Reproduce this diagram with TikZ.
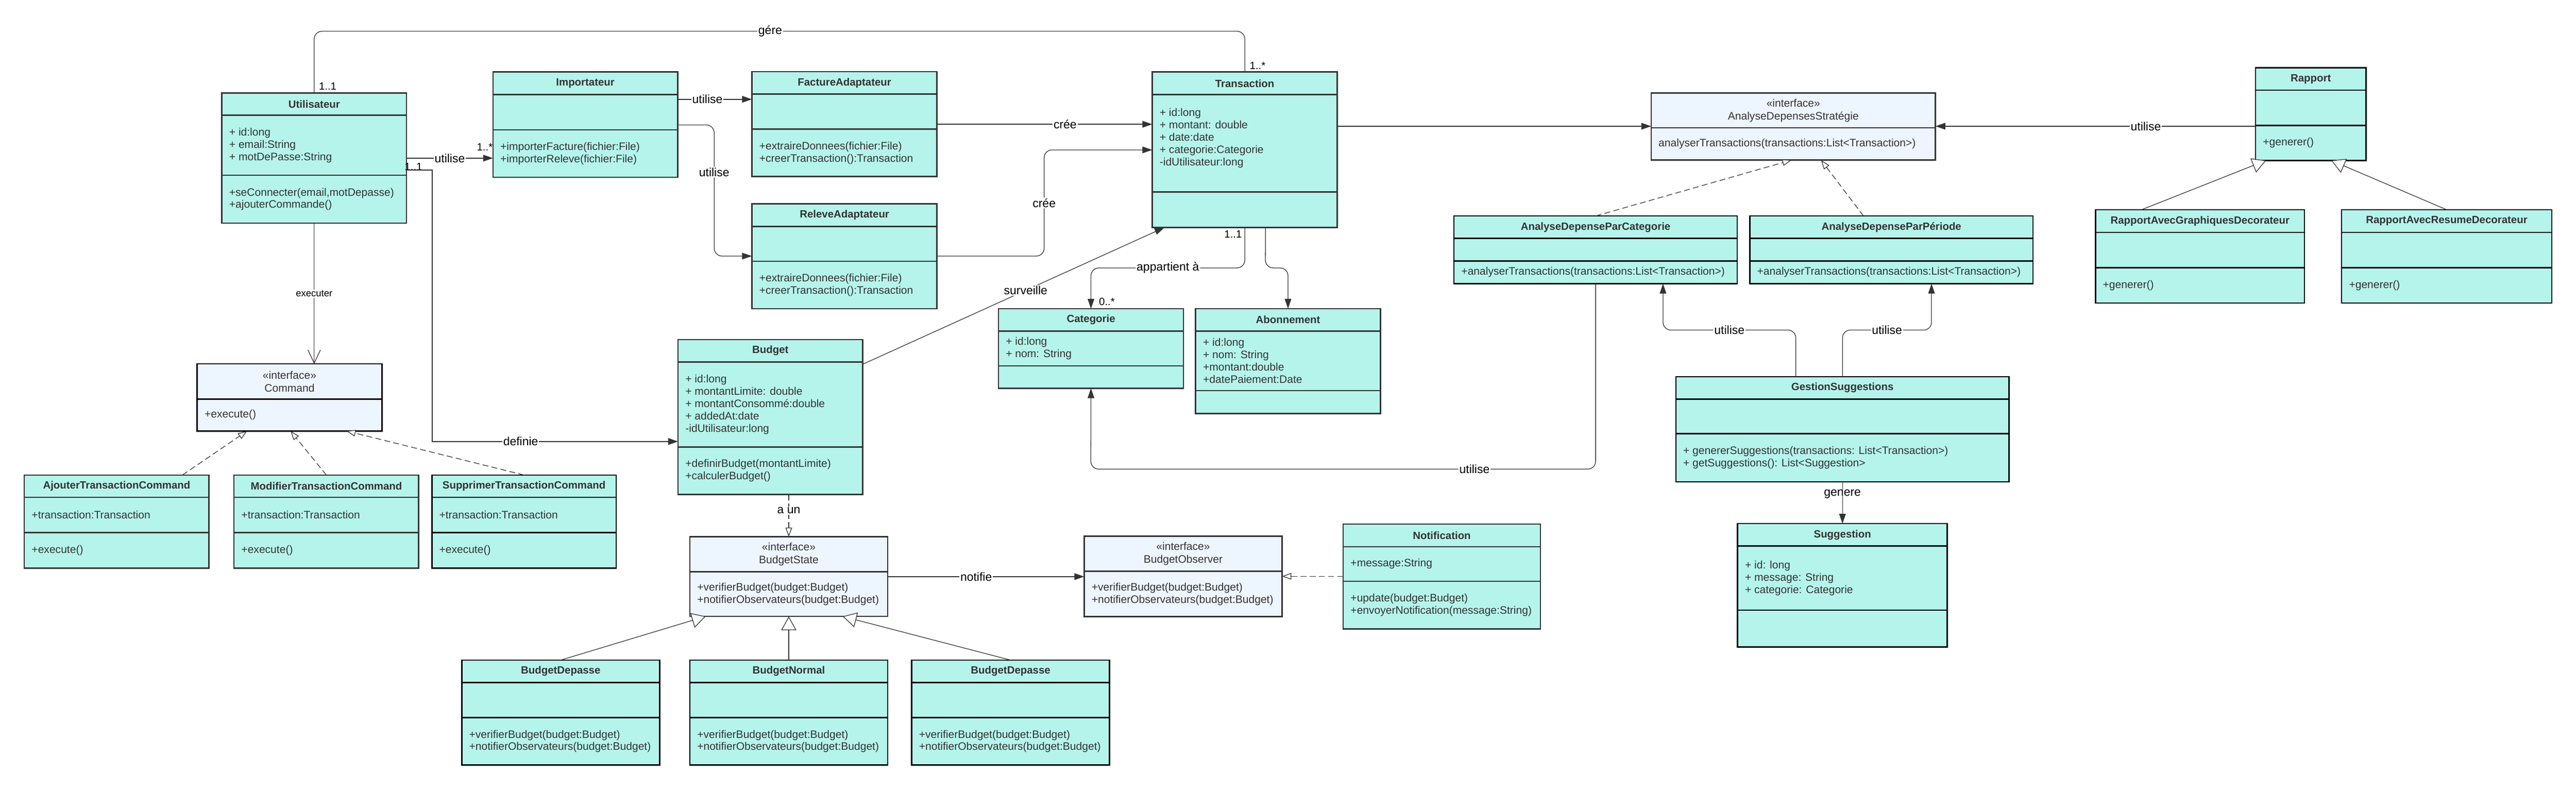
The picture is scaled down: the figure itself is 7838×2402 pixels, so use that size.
\documentclass[tikz,border=0pt]{standalone}
\usepackage{fontspec}
\setmainfont{Liberation Sans}
\usetikzlibrary{arrows.meta,calc,fit}
\definecolor{mint}{HTML}{B5F4EB}
\definecolor{ifc}{HTML}{EDF5FF}
\definecolor{ink}{HTML}{333333}

% class box: [border] name x1 y1 x2 y2 h1 h2
\newcommand{\uclass}[8][ink]{%
  \node[classbox, draw=#1, fit={(#3,#4) (#5,#6)}] (#2) {};
  \coordinate (#2-a) at (#3,#7);
  \coordinate (#2-b) at (#3,#8);
  \draw[sepline, draw=#1] (#2-a) -- (#2.east |- #2-a);
  \draw[sepline, draw=#1] (#2-b) -- (#2.east |- #2-b);
}
% interface box: [border] name x1 y1 x2 y2 h1
\newcommand{\uiface}[7][ink]{%
  \node[classbox, fill=ifc, draw=#1, fit={(#3,#4) (#5,#6)}] (#2) {};
  \coordinate (#2-a) at (#3,#7);
  \draw[sepline, draw=#1] (#2-a) -- (#2.east |- #2-a);
}
\newcommand{\utitle}[2]{\node[ttl] (#1-title) at ($(#1.north)!0.5!(#1.north |- #1-a)$) {#2};}
\newcommand{\uhead}[2]{\node[hd] (#1-title) at ($(#1.north)!0.5!(#1.north |- #1-a)$) {«interface»\\#2};}
\newcommand{\uattrs}[2]{\node[mem] (#1-attrs) at ($(#1-a)!0.5!(#1-b)+(22,0)$) {#2};}
\newcommand{\umeths}[2]{\node[mem] (#1-meths) at ($(#1-b)!0.5!(#1.south west)+(22,0)$) {#2};}
\newcommand{\uimeths}[2]{\node[mem] (#1-meths) at ($(#1-a)!0.5!(#1.south west)+(22,0)$) {#2};}

\begin{document}
\begin{tikzpicture}[x=0.5pt,y=-0.5pt,
  classbox/.style={line width=2pt, fill=mint, inner sep=0pt, outer sep=0pt},
  sepline/.style={line width=2pt},
  ttl/.style={font=\fontsize{16}{19}\selectfont\bfseries, text=ink},
  hd/.style={font=\fontsize{16.5}{19.5}\selectfont, text=ink, align=center},
  mem/.style={font=\fontsize{16.5}{18.75}\selectfont, text=ink, align=left, anchor=west, inner sep=0pt},
  conn/.style={draw=ink, line width=1pt},
  thick2/.style={line width=1.5pt},
  ftip/.style={-{Triangle[length=15pt,width=10pt]}},
  otip/.style={-{Triangle[length=14pt,width=10pt,fill=white]}},
  itip/.style={-{Triangle[length=21pt,width=23pt,fill=white]}},
  vtip/.style={-{Straight Barb[length=20pt,width=19pt]}},
  dsh/.style={dash pattern=on 9pt off 5pt},
  lbl/.style={font=\fontsize{18}{20}\selectfont, fill=white, inner sep=1.5pt, text=black},
  lbltr/.style={font=\fontsize{18}{20}\selectfont, inner sep=1.5pt, text=black},
  mult/.style={font=\fontsize{16}{18}\selectfont, inner sep=1pt, text=black}
]
\fill[white] (0,0) rectangle (7838,2402);
\useasboundingbox (0,0) rectangle (7838,2402);

% ---------- classes ----------
\uclass{util}{675}{283}{1237}{679}{350}{533}
\utitle{util}{Utilisateur}
\uattrs{util}{+ id:long\\+ email:String\\+ motDePasse:String}
\umeths{util}{+seConnecter(email,motDepasse)\\+ajouterCommande()}

\uclass{imp}{1500}{219}{2062}{539}{288}{395}
\utitle{imp}{Importateur}
\umeths{imp}{+importerFacture(fichier:File)\\+importerReleve(fichier:File)}

\uclass{fact}{2288}{218}{2851}{537}{286}{393}
\utitle{fact}{FactureAdaptateur}
\umeths{fact}{+extraireDonnees(fichier:File)\\+creerTransaction():Transaction}

\uclass{rel}{2288}{620}{2851}{939}{689}{795}
\utitle{rel}{ReleveAdaptateur}
\umeths{rel}{+extraireDonnees(fichier:File)\\+creerTransaction():Transaction}

\uclass{trans}{3506}{219}{4069}{692}{288}{584}
\utitle{trans}{Transaction}
\node[mem] (trans-attrs) at (3528,420) {+ id:long\\+ montant: double\\+ date:date\\+ categorie:Categorie\\-idUtilisateur:long};

\uclass{cat}{3038}{939}{3601}{1181}{1007}{1113}
\utitle{cat}{Categorie}
\uattrs{cat}{+ id:long\\+ nom: String}

\uclass{abon}{3638}{939}{4200}{1258}{1007}{1188}
\utitle{abon}{Abonnement}
\uattrs{abon}{+ id:long\\+ nom: String\\+montant:double\\+datePaiement:Date}

\uclass{budget}{2063}{1033}{2625}{1504}{1101}{1360}
\utitle{budget}{Budget}
\uattrs{budget}{+ id:long\\+ montantLimite: double\\+ montantConsommé:double\\+ addedAt:date\\-idUtilisateur:long}
\umeths{budget}{+definirBudget(montantLimite)\\+calculerBudget()}

\uiface{bs}{2099}{1633}{2701}{1875}{1739}
\uhead{bs}{BudgetState}
\uimeths{bs}{+verifierBudget(budget:Budget)\\+notifierObservateurs(budget:Budget)}

\uclass[black]{bd1}{1405}{2008}{2007}{2327}{2076}{2183}
\utitle{bd1}{BudgetDepasse}
\umeths{bd1}{+verifierBudget(budget:Budget)\\+notifierObservateurs(budget:Budget)}

\uclass[black]{bn}{2099}{2008}{2701}{2327}{2076}{2183}
\utitle{bn}{BudgetNormal}
\umeths{bn}{+verifierBudget(budget:Budget)\\+notifierObservateurs(budget:Budget)}

\uclass[black]{bd2}{2774}{2008}{3376}{2327}{2076}{2183}
\utitle{bd2}{BudgetDepasse}
\umeths{bd2}{+verifierBudget(budget:Budget)\\+notifierObservateurs(budget:Budget)}

\uiface{bo}{3299}{1631}{3901}{1876}{1738}
\uhead{bo}{BudgetObserver}
\uimeths{bo}{+verifierBudget(budget:Budget)\\+notifierObservateurs(budget:Budget)}

\uclass{notif}{4087}{1594}{4687}{1913}{1663}{1768}
\utitle{notif}{Notification}
\uattrs{notif}{+message:String}
\umeths{notif}{+update(budget:Budget)\\+envoyerNotification(message:String)}

\uiface[black]{cmd}{600}{1107}{1162}{1311}{1214}
\uhead{cmd}{Command}
\uimeths{cmd}{+execute()}

\uclass{ajout}{74}{1445}{636}{1728}{1513}{1620}
\utitle{ajout}{AjouterTransactionCommand}
\uattrs{ajout}{+transaction:Transaction}
\umeths{ajout}{+execute()}

\uclass{modif}{712}{1445}{1274}{1728}{1513}{1620}
\utitle{modif}{ModifierTransactionCommand}
\uattrs{modif}{+transaction:Transaction}
\umeths{modif}{+execute()}

\uclass[black]{supp}{1314}{1445}{1875}{1728}{1513}{1620}
\utitle{supp}{SupprimerTransactionCommand}
\uattrs{supp}{+transaction:Transaction}
\umeths{supp}{+execute()}

\uiface{ads}{5024}{283}{5889}{487}{389}
\uhead{ads}{AnalyseDepensesStratégie}
\uimeths{ads}{analyserTransactions(transactions:List<Transaction>)}

\uclass[black]{adpc}{4424}{657}{5286}{863}{725}{794}
\utitle{adpc}{AnalyseDepenseParCategorie}
\umeths{adpc}{+analyserTransactions(transactions:List<Transaction>)}

\uclass[black]{adpp}{5324}{657}{6186}{863}{725}{794}
\utitle{adpp}{AnalyseDepenseParPériode}
\umeths{adpp}{+analyserTransactions(transactions:List<Transaction>)}

\uclass[black]{rapport}{6863}{206}{7199}{488}{274}{382}
\utitle{rapport}{Rapport}
\umeths{rapport}{+generer()}

\uclass[black]{rag}{6376}{638}{7012}{922}{707}{814}
\utitle{rag}{RapportAvecGraphiquesDecorateur}
\umeths{rag}{+generer()}

\uclass[black]{rar}{7125}{638}{7764}{922}{707}{814}
\utitle{rar}{RapportAvecResumeDecorateur}
\umeths{rar}{+generer()}

\uclass[black]{gs}{5099}{1146}{6113}{1466}{1214}{1319}
\utitle{gs}{GestionSuggestions}
\umeths{gs}{+ genererSuggestions(transactions: List<Transaction>)\\+ getSuggestions(): List<Suggestion>}

\uclass[black]{sugg}{5287}{1593}{5925}{1968}{1661}{1856}
\utitle{sugg}{Suggestion}
\uattrs{sugg}{+ id: long\\+ message: String\\+ categorie: Categorie}

% ---------- connectors ----------
\draw[conn, rounded corners=12pt] (util.north) -- (util.north |- 0,95) -- node[lbl,pos=0.49]{gére} (trans.north |- 0,95) -- (trans.north);
\node[mult, anchor=west] (m1) at (968,263) {1..1};
\node[mult, anchor=west] (m2) at (3800,200) {1..*};

\draw[conn, thick2, ftip] (util.east |- 0,481) -- node[lbl]{utilise} (imp.west |- 0,481);
\node[mult] (m3) at (1475,448) {1..*};
\node[mult] (m4) at (1258,507) {1..1};

\draw[conn, thick2, ftip] (util.east |- 0,518) -- (1315,518) -- (1315,1343) -- node[lbl,pos=0.36]{definie} (budget.west |- 0,1343);

\draw[conn, vtip] (util.south) -- node[lbl, font=\fontsize{14.5}{16}\selectfont]{executer} (cmd.north -| util.south);

\draw[conn, thick2, ftip] (imp.east |- 0,302) -- node[lbl,pos=0.4]{utilise} (fact.west |- 0,302);
\draw[conn, ftip, rounded corners=12pt] (imp.east |- 0,380) -- (2173,380) -- node[lbl,pos=0.36]{utilise} (2173,779) -- (rel.west |- 0,779);

\draw[conn, thick2, ftip] (fact.east |- 0,378) -- node[lbl,pos=0.595]{crée} (trans.west |- 0,378);
\draw[conn, ftip, rounded corners=12pt] (rel.east |- 0,779) -- (3177,779) -- node[lbl,pos=0.5]{crée} (3177,456) -- (trans.west |- 0,456);

\draw[conn, ftip] (budget.east |- 0,1108) -- node[lbl,pos=0.54]{surveille} ($(trans.south west)+(37,0)$);

\draw[conn, ftip, rounded corners=12pt] (trans.south) -- (trans.south |- 0,815) -- node[lbl]{appartient à} (cat.north |- 0,815) -- (cat.north);
\node[mult] (m5) at (3752,712) {1..1};
\node[mult] (m6) at (3368,918) {0..*};
\draw[conn, ftip, rounded corners=12pt] ($(trans.south)+(63,0)$) -- (3850,815) -- (abon.north |- 0,815) -- (abon.north);

\draw[conn, thick2, ftip] (trans.east |- 0,384) -- (ads.west |- 0,384);
\draw[conn, thick2, ftip] (rapport.west |- 0,384) -- node[lbl,pos=0.343]{utilise} (ads.east |- 0,384);

\draw[conn, itip] ($(rag.north west)+(140,0)$) -- ($(rapport.south west)+(32,0)$);
\draw[conn, itip] (rar.north) -- ($(rapport.south west)+(230,0)$);

\draw[conn, dsh, otip] (adpc.north) -- ($(ads.south west)+(427,0)$);
\draw[conn, dsh, otip] ($(adpp.north west)+(346,0)$) -- ($(ads.south west)+(517,0)$);

\draw[conn, ftip, rounded corners=12pt] ($(gs.north)+(-142,0)$) -- (5464,1004) -- node[lbl]{utilise} (5060,1004) -- ($(adpc.south)+(205,0)$);
\draw[conn, ftip, rounded corners=12pt] (gs.north) -- (5606,1004) -- node[lbl]{utilise} (5877,1004) -- ($(adpp.south)+(122,0)$);
\draw[conn, ftip, rounded corners=12pt] (adpc.south) -- (4855,1427) -- node[lbl,pos=0.24]{utilise} (3319,1427) -- (cat.south);

\draw[conn, ftip] (gs.south) -- node[lbltr,pos=0.29]{genere} (sugg.north);

\draw[conn, dsh, otip] (bs.north |- budget.south) -- node[lbl,pos=0.38]{a un} (bs.north);
\draw[conn, thick2, ftip] (bs.east |- 0,1754) -- node[lbl,pos=0.45]{notifie} (bo.west |- 0,1754);
\draw[conn, dsh, otip] (notif.west |- 0,1753) -- (bo.east |- 0,1753);

\draw[conn, itip] (bd1.north) -- ($(bs.south west)+(48,0)$);
\draw[conn, itip] (bn.north) -- (bs.south);
\draw[conn, itip] (bd2.north) -- ($(bs.south east)+(-137,0)$);

\draw[conn, dsh, otip] ($(ajout.north west)+(481,0)$) -- ($(cmd.south west)+(152,0)$);
\draw[conn, dsh, otip] (modif.north) -- ($(cmd.south west)+(284,0)$);
\draw[conn, dsh, otip] (supp.north) -- ($(cmd.south west)+(454,0)$);
\end{tikzpicture}
\end{document}
